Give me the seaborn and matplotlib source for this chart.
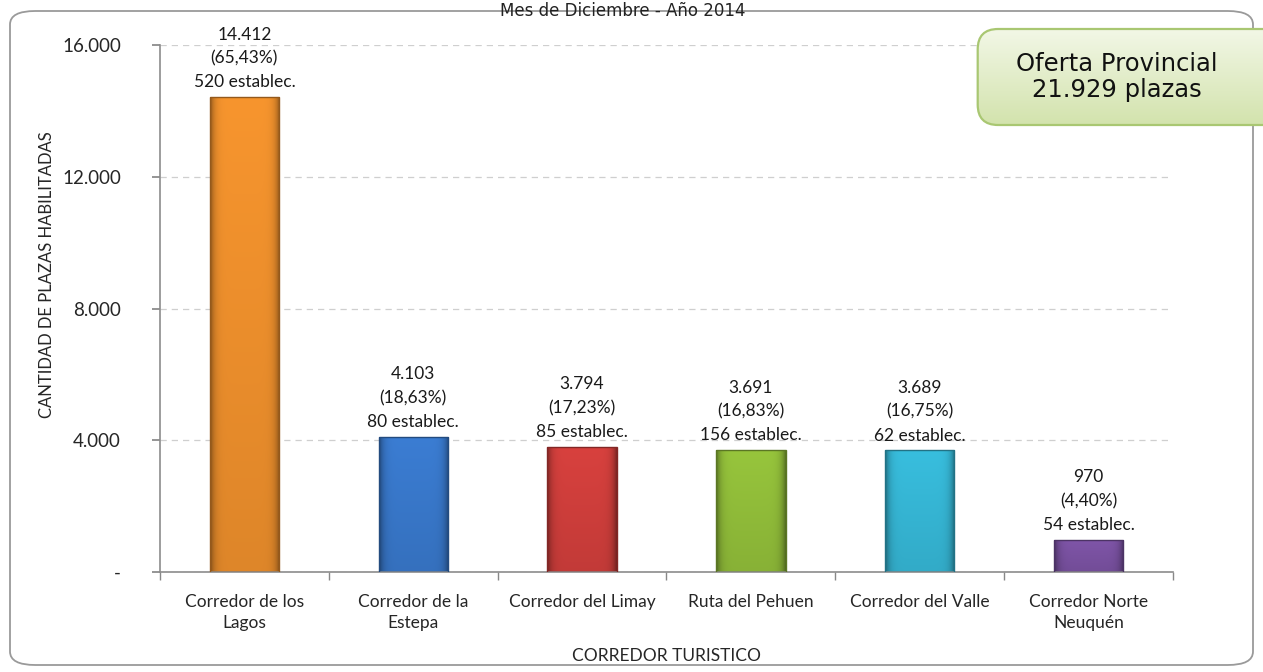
"""
Plazas habilitadas por corredor turistico - Diciembre 2014
"""

import numpy as np
import matplotlib.pyplot as plt
import seaborn as sns
from matplotlib.patches import FancyBboxPatch
from matplotlib.colors import LinearSegmentedColormap, to_rgb

# --- Data ---
categories = ["Corredor de los\nLagos", "Corredor de la\nEstepa", "Corredor del Limay",
              "Ruta del Pehuen", "Corredor del Valle", "Corredor Norte\nNeuquén"]
plazas = [14412, 4103, 3794, 3691, 3689, 970]
porcentajes = ["65,43%", "18,63%", "17,23%", "16,83%", "16,75%", "4,40%"]
establec = [520, 80, 85, 156, 62, 54]
colors = ["#F7952E", "#3B7DD3", "#D8413E", "#97C53C", "#38BEDE", "#7F55A8"]

sns.set_theme(style="white")
plt.rcParams['font.family'] = ['Lato', 'DejaVu Sans']

fig = plt.figure(figsize=(12.63, 6.72), dpi=100)
W, H = 1263, 672

# outer rounded frame
frame = FancyBboxPatch((10 / W, 7 / H), 1243 / W, 654 / H,
                       boxstyle="round,pad=0,rounding_size=0.02",
                       transform=fig.transFigure, fc="white", ec="#9a9a9a", lw=1.3,
                       zorder=-5)
fig.patches.append(frame)

ax = fig.add_axes([160 / W, 1 - 572 / H, (1173 - 160) / W, (572 - 45) / H])
ax.set_facecolor("none")

sns.barplot(x=categories, y=plazas, hue=categories, palette=colors, width=0.41,
            legend=False, ax=ax, edgecolor="none", saturation=1)

# gradient fill on each bar (darker sides, lighter top)
for patch, c in zip(ax.patches, colors):
    base = np.array(to_rgb(c))
    dark = base * 0.6
    xs = np.linspace(0, 1, 60)
    prof = 1 - 0.4 * (np.abs(xs - 0.5) * 2) ** 8
    row = base[None, :] * prof[:, None]
    ys = np.linspace(0, 1, 120)
    vert = 0.9 + 0.1 * ys
    img = np.clip(row[None, :, :] * vert[:, None, None], 0, 1)
    x0, y0 = patch.get_x(), patch.get_y()
    w, h = patch.get_width(), patch.get_height()
    patch.set_facecolor("none")
    patch.set_edgecolor(tuple(dark))
    patch.set_linewidth(1.0)
    im = ax.imshow(img, extent=[x0, x0 + w, y0, y0 + h], origin="lower",
                   aspect="auto", zorder=2, interpolation="bilinear")
    im.set_clip_path(patch)
    patch.set_zorder(3)

ax.set_xlim(-0.5, 5.5)
ax.set_ylim(0, 16000)

# value labels
for i, (v, p, e) in enumerate(zip(plazas, porcentajes, establec)):
    txt = f"{v:,}".replace(",", ".") + f"\n({p})\n{e} establec."
    ax.annotate(txt, (i, v), xytext=(0, 5), textcoords="offset points",
                ha="center", va="bottom", fontsize=12.5, linespacing=1.6,
                color="#1a1a1a")

ax.set_yticks([0, 4000, 8000, 12000, 16000])
ax.set_yticklabels(["-", "4.000", "8.000", "12.000", "16.000"], fontsize=13.5)
ax.yaxis.grid(True, linestyle=(0, (5, 4)), color="#cfcfcf", lw=0.9)
ax.set_axisbelow(True)

ax.set_xticks(range(6))
ax.set_xticklabels(categories, fontsize=12.5, linespacing=1.4)
ax.tick_params(axis="x", length=0, pad=16)
ax.set_xticks(np.arange(-0.5, 6, 1), minor=True)
ax.tick_params(axis="x", which="minor", length=6, color="#888888", direction="out",
               bottom=True)
ax.tick_params(axis="y", length=6, color="#888888", direction="out", left=True,
               pad=22)

for s in ["top", "right"]:
    ax.spines[s].set_visible(False)
for s in ["left", "bottom"]:
    ax.spines[s].set_color("#8c8c8c")
    ax.spines[s].set_linewidth(1.2)

ax.set_xlabel("CORREDOR TURISTICO", fontsize=12.5)
ax.xaxis.set_label_coords(0.5, -0.145)
ax.set_ylabel("CANTIDAD DE PLAZAS HABILITADAS", fontsize=12)
ax.yaxis.set_label_coords(-0.104, 0.565)

# title at the very top
fig.text(0.493, 1 - 2 / H, "Mes de Diciembre - Año 2014", ha="center",
         va="top", fontsize=12, color="#222222", family=["DejaVu Sans"])

# inset box (runs off the right edge like the original)
box_ax = fig.add_axes([976 / W, 1 - 127 / H, 340 / W, 100 / H])
box_ax.set_xlim(0, 1)
box_ax.set_ylim(0, 1)
box_ax.axis("off")
cmap = LinearSegmentedColormap.from_list("g", ["#d3e3ad", "#f2f7e6"])
grad = np.linspace(0, 1, 100)[:, None]
bg = FancyBboxPatch((0.005, 0.02), 1.0, 0.96, boxstyle="round,pad=0,rounding_size=0.06",
                    fc="none", ec="#a9c772", lw=1.6, transform=box_ax.transAxes,
                    mutation_aspect=3.4, zorder=2)
box_ax.add_patch(bg)
gi = box_ax.imshow(grad, extent=[0, 1, 0.02, 0.98], origin="lower", cmap=cmap,
                   aspect="auto", zorder=1, interpolation="bilinear")
gi.set_clip_path(bg)
box_ax.text(0.415, 0.5, "Oferta Provincial\n21.929 plazas", ha="center", va="center",
            fontsize=17.5, linespacing=1.1, color="#111111", family=["DejaVu Sans"],
            zorder=3)

fig.savefig("out.png", dpi=100)
plt.close()
